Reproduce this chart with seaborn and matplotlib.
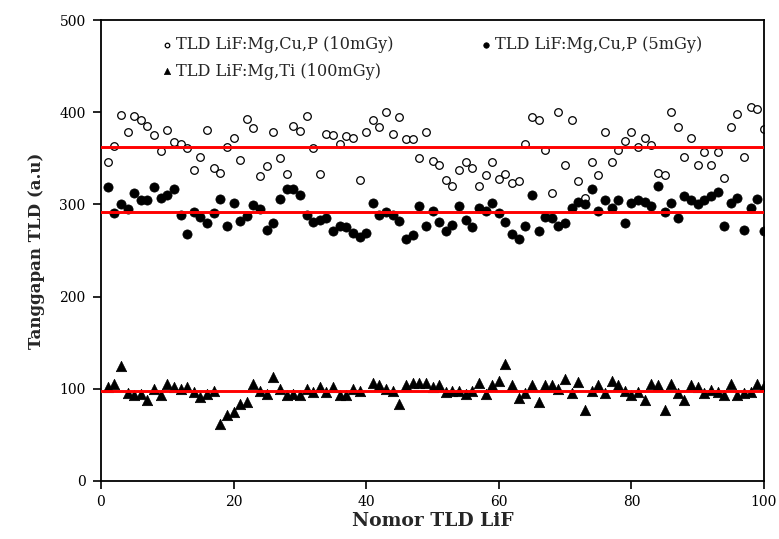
import numpy as np
import pandas as pd
import matplotlib
matplotlib.use("Agg")
import matplotlib.pyplot as plt
import seaborn as sns

# Detector number (x axis)
nomor = list(range(1, 101))

# TLD response, LiF:Mg,Cu,P irradiated with 10 mGy
cup_10 = [346, 363, 397, 379, 396, 392, 385, 375, 358, 381,
          368, 366, 361, 337, 351, 381, 340, 334, 362, 372,
          348, 393, 383, 331, 342, 379, 350, 333, 385, 380,
          396, 361, 333, 376, 375, 366, 374, 372, 327, 378,
          392, 384, 400, 376, 395, 371, 371, 350, 379, 347,
          343, 326, 320, 337, 346, 340, 320, 332, 346, 328,
          333, 323, 325, 366, 395, 392, 359, 312, 400, 343,
          391, 325, 307, 346, 332, 378, 346, 359, 369, 378,
          362, 372, 364, 334, 332, 400, 384, 351, 372, 343,
          357, 343, 357, 329, 384, 398, 351, 406, 403, 382]

# TLD response, LiF:Mg,Cu,P irradiated with 5 mGy
cup_5 = [319, 291, 300, 295, 312, 305, 305, 319, 307, 310,
         317, 289, 268, 292, 286, 280, 291, 306, 277, 302,
         282, 287, 299, 295, 272, 280, 306, 317, 317, 310,
         289, 281, 283, 285, 271, 277, 275, 269, 265, 269,
         302, 288, 292, 288, 282, 263, 267, 298, 277, 293,
         281, 271, 278, 298, 283, 275, 296, 293, 302, 291,
         281, 268, 263, 277, 310, 271, 286, 285, 277, 280,
         296, 303, 300, 317, 293, 305, 296, 305, 280, 302,
         305, 303, 298, 320, 292, 302, 285, 309, 305, 300,
         305, 309, 313, 277, 302, 307, 272, 296, 306, 271]

# TLD response, LiF:Mg,Ti irradiated with 100 mGy (no reading for detector 40)
ti_100 = [102, 105, 125, 95, 93, 94, 88, 100, 93, 105,
          102, 100, 102, 97, 91, 94, 98, 62, 72, 75,
          84, 86, 105, 98, 94, 113, 100, 93, 94, 93,
          100, 97, 102, 97, 102, 93, 93, 100, 98, np.nan,
          106, 104, 100, 98, 84, 104, 106, 106, 106, 102,
          104, 97, 98, 98, 94, 98, 106, 94, 104, 108,
          127, 104, 90, 95, 104, 86, 104, 104, 100, 111,
          95, 107, 77, 98, 104, 95, 109, 104, 98, 93,
          97, 88, 105, 104, 77, 105, 95, 88, 104, 102,
          95, 99, 97, 93, 105, 93, 95, 97, 105, 103]

# Average response levels of each group
rata_rata = [362, 292, 98]

label_10 = "TLD LiF:Mg,Cu,P (10mGy)"
label_5 = "TLD LiF:Mg,Cu,P (5mGy)"
label_ti = "TLD LiF:Mg,Ti (100mGy)"

df = pd.DataFrame({"nomor": nomor, "cup_10": cup_10, "cup_5": cup_5, "ti_100": ti_100})

sns.set_theme(style="white")
plt.rcParams["font.family"] = ["DejaVu Serif"]

fig = plt.figure(figsize=(7.79, 5.39), dpi=100)
ax = fig.add_axes([101 / 779, 1 - 481 / 539, 663 / 779, 461 / 539])

sns.scatterplot(data=df, x="nomor", y="cup_10", ax=ax, marker="o", s=30,
                facecolor="white", edgecolor="black", linewidth=0.9,
                label=label_10)
sns.scatterplot(data=df, x="nomor", y="cup_5", ax=ax, marker="o", s=44,
                color="black", edgecolor="black", linewidth=0.5, label=label_5)
sns.scatterplot(data=df, x="nomor", y="ti_100", ax=ax, marker="^", s=56,
                color="black", edgecolor="black", linewidth=0.5, label=label_ti)

for level in rata_rata:
    ax.axhline(level, color="#ff0000", linewidth=2.1, zorder=3)

ax.set_xlim(0, 100)
ax.set_ylim(0, 500)
ax.set_xticks(range(0, 101, 20))
ax.set_yticks(range(0, 501, 100))
ax.tick_params(axis="both", direction="out", length=6, width=1.2,
               labelsize=10, colors="black", bottom=True, left=True)
ax.tick_params(axis="y", pad=5)
ax.tick_params(axis="x", pad=4)
for side in ["left", "right", "top", "bottom"]:
    ax.spines[side].set_color("black")
    ax.spines[side].set_linewidth(1.3)

ax.set_xlabel("Nomor TLD LiF", fontsize=13.5, fontweight="bold", labelpad=2)
ax.set_ylabel("Tanggapan TLD (a.u)", fontsize=12, fontweight="bold", labelpad=10)

handles, labels = ax.get_legend_handles_labels()
order = [labels.index(label_10), labels.index(label_ti), labels.index(label_5)]
ax.legend([handles[i] for i in order], [labels[i] for i in order],
          ncol=2, frameon=False, loc="upper left", bbox_to_anchor=(0.065, 0.997),
          fontsize=11.6, markerscale=0.6, handletextpad=0.1, handlelength=1.0,
          labelspacing=0.6, columnspacing=5.2)

fig.savefig("out.png", dpi=100)
